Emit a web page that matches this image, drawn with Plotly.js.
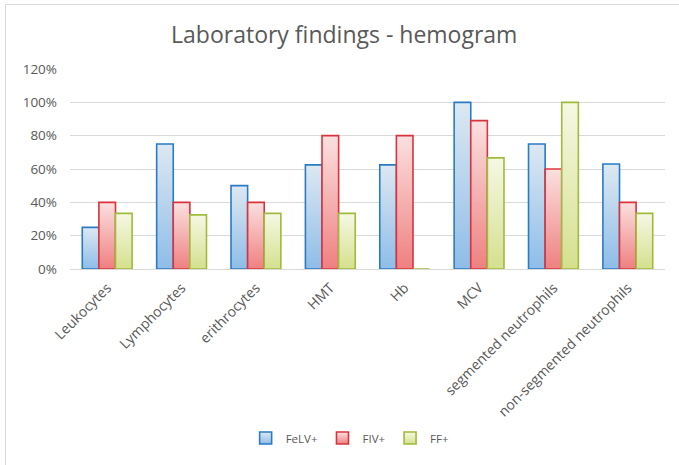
<!DOCTYPE html>
<html>
<head>
<meta charset="utf-8">
<script src="https://cdn.plot.ly/plotly-3.0.1.min.js"></script>
<style>
  html, body { margin: 0; padding: 0; background: #fff; }
  #chart { position: absolute; left: 0; top: 0; width: 679px; height: 465px; }
  #frame { position: absolute; left: 5px; top: 4px; width: 700px; height: 500px; border: 1px solid #d9d9d9; pointer-events: none; }
</style>
</head>
<body>
<div id="chart"></div>
<div id="frame"></div>
<script>
const categories = ["Leukocytes", "Lymphocytes", "erithrocytes", "HMT", "Hb", "MCV", "segmented neutrophils", "non-segmented neutrophils"];
const felv = [0.25, 0.75, 0.50, 0.625, 0.625, 1.00, 0.75, 0.63];
const fiv  = [0.40, 0.40, 0.40, 0.80, 0.80, 0.89, 0.60, 0.40];
const ff   = [0.334, 0.325, 0.334, 0.334, 0, 0.667, 1.00, 0.334];
const seriesNames = ["FeLV+", "FIV+", "FF+"];
const yTickVals = [0, 0.2, 0.4, 0.6, 0.8, 1.0, 1.2];
const yTickText = ["0%", "20%", "40%", "60%", "80%", "100%", "120%"];

const lineColors = ["#2a7bc4", "#d9343d", "#9fbb3b"];
const grads = [
  ["#dde8f2", "#8ebde8"],
  ["#fbe0e0", "#ef8080"],
  ["#f6f8e4", "#d5e08e"]
];

const font = "'Open Sans', 'Noto Sans', sans-serif";
const data = [felv, fiv, ff].map((vals, i) => ({
  type: "bar",
  name: seriesNames[i],
  x: categories,
  y: vals,
  marker: { color: grads[i][1], line: { color: lineColors[i], width: 1.6 } },
  hoverinfo: "none"
}));

const layout = {
  width: 679,
  height: 465,
  margin: { l: 70, r: 14, t: 69, b: 196 },
  paper_bgcolor: "#ffffff",
  plot_bgcolor: "#ffffff",
  barmode: "group",
  bargap: 0.33,
  bargroupgap: 0,
  title: {
    text: "Laboratory findings - hemogram",
    x: 0.507, xref: "container", xanchor: "center",
    y: 0.924, yref: "container", yanchor: "middle",
    font: { family: font, size: 23, color: "#595959" }
  },
  xaxis: {
    tickangle: -45,
    tickfont: { family: font, size: 14, color: "#595959" },
    showgrid: false,
    showline: false,
    ticks: "",
    zeroline: false,
    ticklabelstandoff: 7,
    automargin: false
  },
  yaxis: {
    range: [0, 1.2],
    tickvals: yTickVals,
    ticktext: yTickText,
    tickfont: { family: font, size: 13.5, color: "#595959" },
    gridcolor: "#d9d9d9",
    gridwidth: 1,
    zeroline: true,
    zerolinecolor: "#d9d9d9",
    zerolinewidth: 1,
    showline: false,
    ticks: "",
    ticklen: 0,
    ticklabelstandoff: 12,
    automargin: false
  },
  showlegend: true,
  legend: {
    orientation: "h",
    x: 0.47, xanchor: "center",
    y: -0.845, yanchor: "middle",
    font: { family: font, size: 11.5, color: "#595959" },
    itemwidth: 30,
    traceorder: "normal"
  }
};

Plotly.newPlot("chart", data, layout, { staticPlot: true, displayModeBar: false }).then(gd => {
  const svg = gd.querySelector("svg.main-svg");
  const ns = "http://www.w3.org/2000/svg";
  let defs = svg.querySelector("defs");
  if (!defs) { defs = document.createElementNS(ns, "defs"); svg.insertBefore(defs, svg.firstChild); }
  grads.forEach((g, i) => {
    const lg = document.createElementNS(ns, "linearGradient");
    lg.setAttribute("id", "bargrad" + i);
    lg.setAttribute("x1", "0"); lg.setAttribute("y1", "0");
    lg.setAttribute("x2", "0"); lg.setAttribute("y2", "1");
    const s1 = document.createElementNS(ns, "stop");
    s1.setAttribute("offset", "0"); s1.setAttribute("stop-color", g[0]);
    const s2 = document.createElementNS(ns, "stop");
    s2.setAttribute("offset", "1"); s2.setAttribute("stop-color", g[1]);
    lg.appendChild(s1); lg.appendChild(s2);
    defs.appendChild(lg);
  });
  gd.querySelectorAll(".barlayer .trace").forEach((tr, i) => {
    tr.querySelectorAll("path").forEach(p => { p.style.fill = "url(#bargrad" + i + ")"; });
  });
  gd.querySelectorAll(".legend .traces").forEach((tr, i) => {
    tr.querySelectorAll(".legendpoints path").forEach(p => { p.style.fill = "url(#bargrad" + i + ")"; });
  });
});
</script>
</body>
</html>
